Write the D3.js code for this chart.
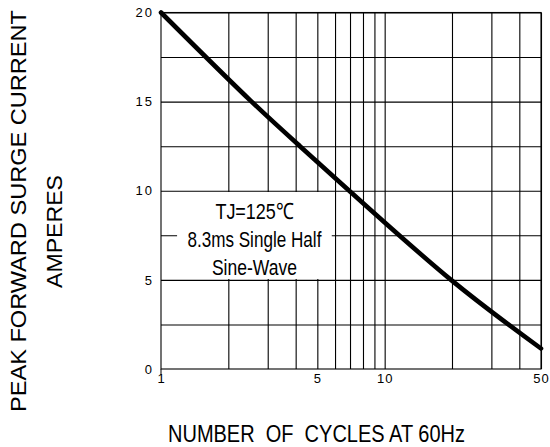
<!DOCTYPE html>
<html>
<head>
<meta charset="utf-8">
<script src="https://cdn.jsdelivr.net/npm/d3@7"></script>
<style>
  html, body { margin: 0; padding: 0; background: #fff; }
  svg { display: block; }
  text { font-family: "Liberation Sans", Arial, Helvetica, sans-serif; fill: #000; }
</style>
</head>
<body>
<svg id="chart" width="550" height="447"></svg>
<script>
// ---- data ----
const cycles  = [1, 2.54, 4.18, 19.8, 50];
const current = [20, 15, 12.5, 5, 1.15];

const xTickValues = [1, 5, 10, 50];
const xTickLabels = ["1", "5", "10", "50"];
const xGridValues = [2, 3, 4, 5, 6, 7, 8, 9, 10, 20, 30, 40, 50];
const yTickValues = [0, 5, 10, 15, 20];
const yTickLabels = ["0", "5", "10", "15", "20"];
const yGridValues = [2.5, 5, 7.5, 10, 12.5, 15, 17.5, 20];

const noteLines = ["TJ=125\u2103", "8.3ms Single Half", "Sine-Wave"];
const xTitle = "NUMBER  OF  CYCLES AT 60Hz";
const yTitle1 = "PEAK FORWARD SURGE CURRENT";
const yTitle2 = "AMPERES";

// ---- layout ----
const svg = d3.select("#chart");
const margin = { left: 161, top: 12.5, right: 9, bottom: 78 };
const W = 550, H = 447;
const w = W - margin.left - margin.right;
const h = H - margin.top - margin.bottom;

const x = d3.scaleLog().domain([1, 50]).range([0, w]);
const y = d3.scaleLinear().domain([0, 20]).range([h, 0]);

const g = svg.append("g").attr("transform", `translate(${margin.left},${margin.top})`);

// grid
const gridX = g.append("g").attr("transform", `translate(0,${h})`)
  .call(d3.axisBottom(x).tickValues(xGridValues).tickSize(-h).tickFormat(""));
gridX.select(".domain").remove();
gridX.selectAll("line").attr("stroke", "#000").attr("stroke-width", 1.1);

const gridY = g.append("g")
  .call(d3.axisLeft(y).tickValues(yGridValues).tickSize(-w).tickFormat(""));
gridY.select(".domain").remove();
gridY.selectAll("line").attr("stroke", "#000").attr("stroke-width", 1.1);

// frame
g.append("rect").attr("x", 0).attr("y", 0).attr("width", w).attr("height", h)
  .attr("fill", "none").attr("stroke", "#000").attr("stroke-width", 1.1);
// small tick below origin
g.append("line").attr("x1", x(1)).attr("x2", x(1)).attr("y1", h).attr("y2", h + 6)
  .attr("stroke", "#000");

// annotation box (white background hiding grid)
const note = g.append("g");
const bx0 = x(1.18), bx1 = x(5.8), by0 = y(9.93), by1 = y(5.05);
note.append("rect").attr("x", bx0).attr("y", by0)
  .attr("width", bx1 - bx0).attr("height", by1 - by0).attr("fill", "#fff");
const noteCx = (bx0 + bx1) / 2;
const noteLen = [78, 134, 85];
const noteBase = [y(8.4), y(6.86), y(5.27)];
noteLines.forEach((t, i) => {
  note.append("text")
    .attr("x", noteCx).attr("y", noteBase[i])
    .attr("text-anchor", "middle")
    .attr("font-size", 22.5)
    .attr("textLength", noteLen[i]).attr("lengthAdjust", "spacingAndGlyphs")
    .text(t);
});

// curve
const pts = cycles.map((c, i) => [c, current[i]]);
g.append("path").datum(pts)
  .attr("fill", "none").attr("stroke", "#000").attr("stroke-width", 4.6)
  .attr("stroke-linecap", "round")
  .attr("d", d3.line().x(d => x(d[0])).y(d => y(d[1])).curve(d3.curveCatmullRom.alpha(0.5)));

// axis labels
const xa = g.append("g").attr("transform", `translate(0,${h})`)
  .call(d3.axisBottom(x).tickValues(xTickValues).tickSize(0).tickPadding(5)
    .tickFormat((d, i) => xTickLabels[i]));
xa.select(".domain").remove();
xa.selectAll("text").attr("font-size", 13).attr("letter-spacing", 1)
  .style("font-family", '"Liberation Sans", Arial, sans-serif').attr("fill", "#000");

const ya = g.append("g")
  .call(d3.axisLeft(y).tickValues(yTickValues).tickSize(0).tickPadding(7)
    .tickFormat((d, i) => yTickLabels[i]));
ya.select(".domain").remove();
ya.selectAll("text").attr("font-size", 13).attr("letter-spacing", 2)
  .style("font-family", '"Liberation Sans", Arial, sans-serif').attr("fill", "#000");

// titles
svg.append("text")
  .attr("x", 316.5).attr("y", 441.5)
  .attr("text-anchor", "middle").attr("font-size", 24)
  .attr("textLength", 297).attr("lengthAdjust", "spacingAndGlyphs")
  .style("white-space", "pre")
  .text(xTitle);

svg.append("text")
  .attr("transform", "translate(26,211) rotate(-90)")
  .attr("text-anchor", "middle").attr("font-size", 21.5)
  .attr("textLength", 402).attr("lengthAdjust", "spacingAndGlyphs")
  .text(yTitle1);

svg.append("text")
  .attr("transform", "translate(61.5,231.5) rotate(-90)")
  .attr("text-anchor", "middle").attr("font-size", 21.5)
  .attr("textLength", 113).attr("lengthAdjust", "spacingAndGlyphs")
  .text(yTitle2);
</script>
</body>
</html>
